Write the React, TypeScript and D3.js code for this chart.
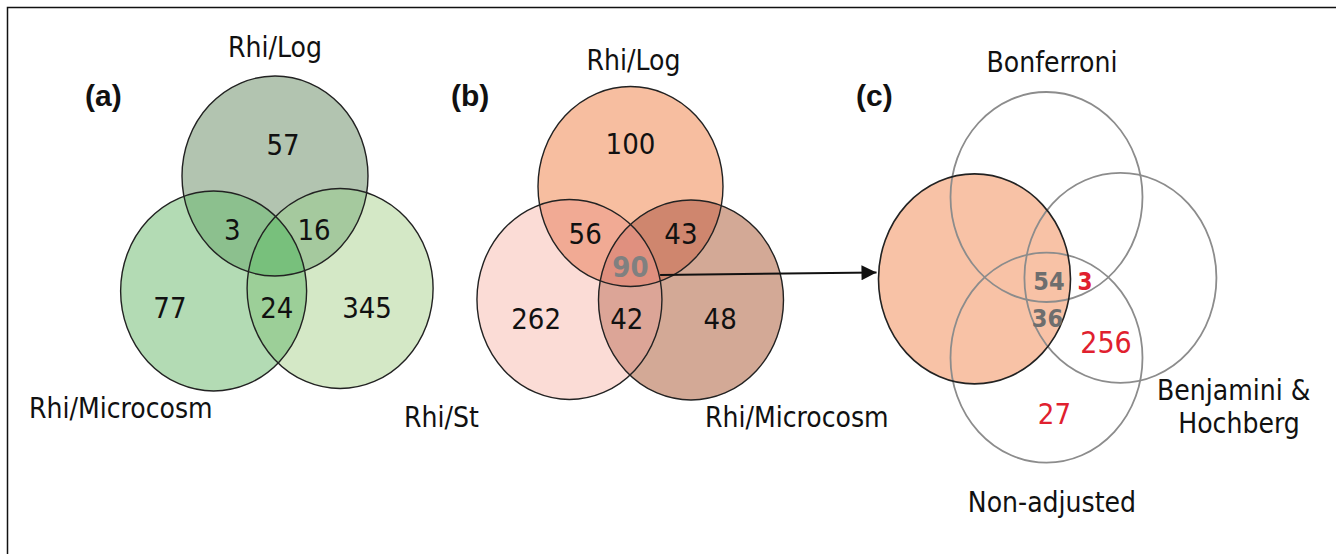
import * as d3 from 'd3'

// ---- data ----
const setsA = ['Rhi/Log', 'Rhi/Microcosm', 'Rhi/St']
const regionsA = ['Log', 'Log∩Micro', 'Log∩St', 'Micro', 'Micro∩St', 'St']
const countsA = [57, 3, 16, 77, 24, 345]

const setsB = ['Rhi/Log', 'Rhi/St', 'Rhi/Microcosm']
const regionsB = ['Log', 'Log∩St', 'Log∩Micro', 'All', 'St', 'St∩Micro', 'Micro']
const countsB = [100, 56, 43, 90, 262, 42, 48]

const setsC = ['Bonferroni', 'Common (90)', 'Benjamini &\nHochberg', 'Non-adjusted']
const regionsC = ['Bonf∩BH∩Non', 'BH∩Non (not common)', 'BH∩Non', 'BH∩Non only', 'Non only']
const countsC = [54, 3, 36, 256, 27]

// ---- layout (unit = one radius) ----
const W = 1336
const H = 554
const FONT = '"DejaVu Sans Condensed", "DejaVu Sans", sans-serif'

const layoutA = {
  origin: [275, 176], k: [93, 100],
  centers: [[0, 0], [-0.66, 1.15], [0.70, 1.125]],
  countPos: [[0.086, -0.21], [-0.46, 0.64], [0.42, 0.64], [-1.13, 1.42], [0.02, 1.42], [0.99, 1.42]],
  fills: ['#b2c4b0', '#b3dbb4', '#d4e8c6', '#8cc08e', '#a5c99e', '#9ccf98', '#78c07c'],
}
const layoutB = {
  origin: [630.5, 186.5], k: [92.5, 100],
  centers: [[0, 0], [-0.66, 1.13], [0.654, 1.135]],
  countPos: [[0, -0.325], [-0.49, 0.575], [0.545, 0.575], [0, 0.905], [-1.02, 1.425], [-0.04, 1.425], [0.97, 1.425]],
  fills: ['#f7bea0', '#fbdcd6', '#d3a996', '#f1aa94', '#cf866e', '#dca597', '#e0907f'],
}
const layoutC = {
  origin: [1046.5, 197], k: [96, 105],
  centers: [[0, 0], [-0.75, 0.78], [0.77, 0.77], [0, 1.53]],
  countPos: [[0.026, 0.886], [0.40, 0.886], [0.01, 1.24], [0.62, 1.486], [0.083, 2.16]],
}

function scales(l: any) {
  const x = d3.scaleLinear().domain([0, 1]).range([l.origin[0], l.origin[0] + l.k[0]])
  const y = d3.scaleLinear().domain([0, 1]).range([l.origin[1], l.origin[1] + l.k[1]])
  return { x, y }
}

function Venn3({ id, layout, counts, labels }: any) {
  const { x, y } = scales(layout)
  const rx = x(1) - x(0)
  const ry = y(1) - y(0)
  const f = layout.fills
  const el = (i: number, props: any = {}) => (
    <ellipse cx={x(layout.centers[i][0])} cy={y(layout.centers[i][1])} rx={rx} ry={ry} {...props} />
  )
  const clip = (i: number) => `url(#${id}-c${i})`
  return (
    <g>
      <defs>
        {layout.centers.map((_: any, i: number) => (
          <clipPath key={i} id={`${id}-c${i}`}>{el(i)}</clipPath>
        ))}
      </defs>
      {el(0, { fill: f[0] })}
      {el(1, { fill: f[1] })}
      {el(2, { fill: f[2] })}
      <g clipPath={clip(0)}>{el(1, { fill: f[3] })}</g>
      <g clipPath={clip(0)}>{el(2, { fill: f[4] })}</g>
      <g clipPath={clip(1)}>{el(2, { fill: f[5] })}</g>
      <g clipPath={clip(0)}><g clipPath={clip(1)}>{el(2, { fill: f[6] })}</g></g>
      {[0, 1, 2].map(i => el(i, { key: 'o' + i, fill: 'none', stroke: '#222', strokeWidth: 1.4 }))}
      {counts.map((c: any, i: number) => (
        <text key={i} x={x(layout.countPos[i][0])} y={y(layout.countPos[i][1])}
          textAnchor="middle" fontSize={c.size || 29} fontWeight={c.bold ? 'bold' : 'normal'}
          fill={c.color || '#111'}>{c.value}</text>
      ))}
      {labels.map((lb: any, i: number) => (
        <text key={'l' + i} x={x(lb.pos[0])} y={y(lb.pos[1])} textAnchor={lb.anchor}
          fontSize={28} fill="#111">{lb.text}</text>
      ))}
    </g>
  )
}

export default function App() {
  const cA = countsA.map(v => ({ value: v }))
  const cB = countsB.map((v, i) => regionsB[i] === 'All'
    ? { value: v, color: '#808080', bold: true, size: 29 } : { value: v })

  const labelsA = [
    { text: setsA[0], pos: [0, -1.19], anchor: 'middle' },
    { text: setsA[1], pos: [-2.645, 2.42], anchor: 'start' },
    { text: setsA[2], pos: [1.387, 2.51], anchor: 'start' },
  ]
  const labelsB = [
    { text: setsB[0], pos: [0.032, -1.165], anchor: 'middle' },
    { text: setsB[2], pos: [0.805, 2.405], anchor: 'start' },
  ]

  const sc = scales(layoutC)
  const rxC = sc.x(1) - sc.x(0)
  const ryC = sc.y(1) - sc.y(0)
  const sb = scales(layoutB)
  const gray = '#8c8c8c'
  const red = '#e0202e'
  const countStyleC = [
    { color: '#6e6e6e', bold: true, size: 25 },
    { color: red, bold: true, size: 24 },
    { color: '#6e6e6e', bold: true, size: 25 },
    { color: red, size: 30 },
    { color: red, size: 29 },
  ]
  const cLabels = [
    { text: setsC[0], pos: [0.057, -1.19] },
    { text: 'Benjamini &', pos: [1.95, 1.933] },
    { text: 'Hochberg', pos: [2.005, 2.248] },
    { text: setsC[3], pos: [0.057, 3.0] },
  ]

  const arrowStart = [sb.x(0.32), sb.y(0.885)]
  const arrowEnd = [sc.x(layoutC.centers[1][0] - 1) - 2, sc.y(layoutC.centers[1][1] - 0.06)]

  return (
    <svg width={W} height={H} style={{ position: 'absolute', left: 0, top: 0, fontFamily: FONT }}>
      <rect width={W} height={H} fill="#fff" />
      <path d={`M7.5,${H}V7.5H${W}`} fill="none" stroke="#111" strokeWidth={1.5} />
      <defs>
        <marker id="arrow" viewBox="0 0 10 10" refX="10" refY="5" markerWidth="16" markerHeight="15"
          markerUnits="userSpaceOnUse" orient="auto">
          <path d="M0,0L10,5L0,10Z" fill="#111" />
        </marker>
      </defs>

      {['(a)', '(b)', '(c)'].map((t, i) => (
        <text key={t} x={[85, 451, 856][i]} y={106} fontFamily='"Liberation Sans", Arial, sans-serif'
          fontWeight="bold" fontSize={30} fill="#111">{t}</text>
      ))}

      <Venn3 id="va" layout={layoutA} counts={cA} labels={labelsA} />
      <Venn3 id="vb" layout={layoutB} counts={cB} labels={labelsB} />

      {/* panel c */}
      <g>
        <ellipse cx={sc.x(layoutC.centers[1][0])} cy={sc.y(layoutC.centers[1][1])} rx={rxC} ry={ryC} fill="#f8c2a6" />
        {[0, 2, 3].map(i => (
          <ellipse key={i} cx={sc.x(layoutC.centers[i][0])} cy={sc.y(layoutC.centers[i][1])} rx={rxC} ry={ryC}
            fill="none" stroke={gray} strokeWidth={1.8} />
        ))}
        <ellipse cx={sc.x(layoutC.centers[1][0])} cy={sc.y(layoutC.centers[1][1])} rx={rxC} ry={ryC}
          fill="none" stroke="#222" strokeWidth={1.6} />
        {countsC.map((v, i) => (
          <text key={regionsC[i]} x={sc.x(layoutC.countPos[i][0])} y={sc.y(layoutC.countPos[i][1])}
            textAnchor="middle" fontSize={countStyleC[i].size} fontWeight={countStyleC[i].bold ? 'bold' : 'normal'}
            fill={countStyleC[i].color}>{v}</text>
        ))}
        {cLabels.map(lb => (
          <text key={lb.text} x={sc.x(lb.pos[0])} y={sc.y(lb.pos[1])} textAnchor="middle" fontSize={28} fill="#111">{lb.text}</text>
        ))}
      </g>

      <line x1={arrowStart[0]} y1={arrowStart[1]} x2={arrowEnd[0]} y2={arrowEnd[1]}
        stroke="#111" strokeWidth={2} markerEnd="url(#arrow)" />
    </svg>
  )
}
